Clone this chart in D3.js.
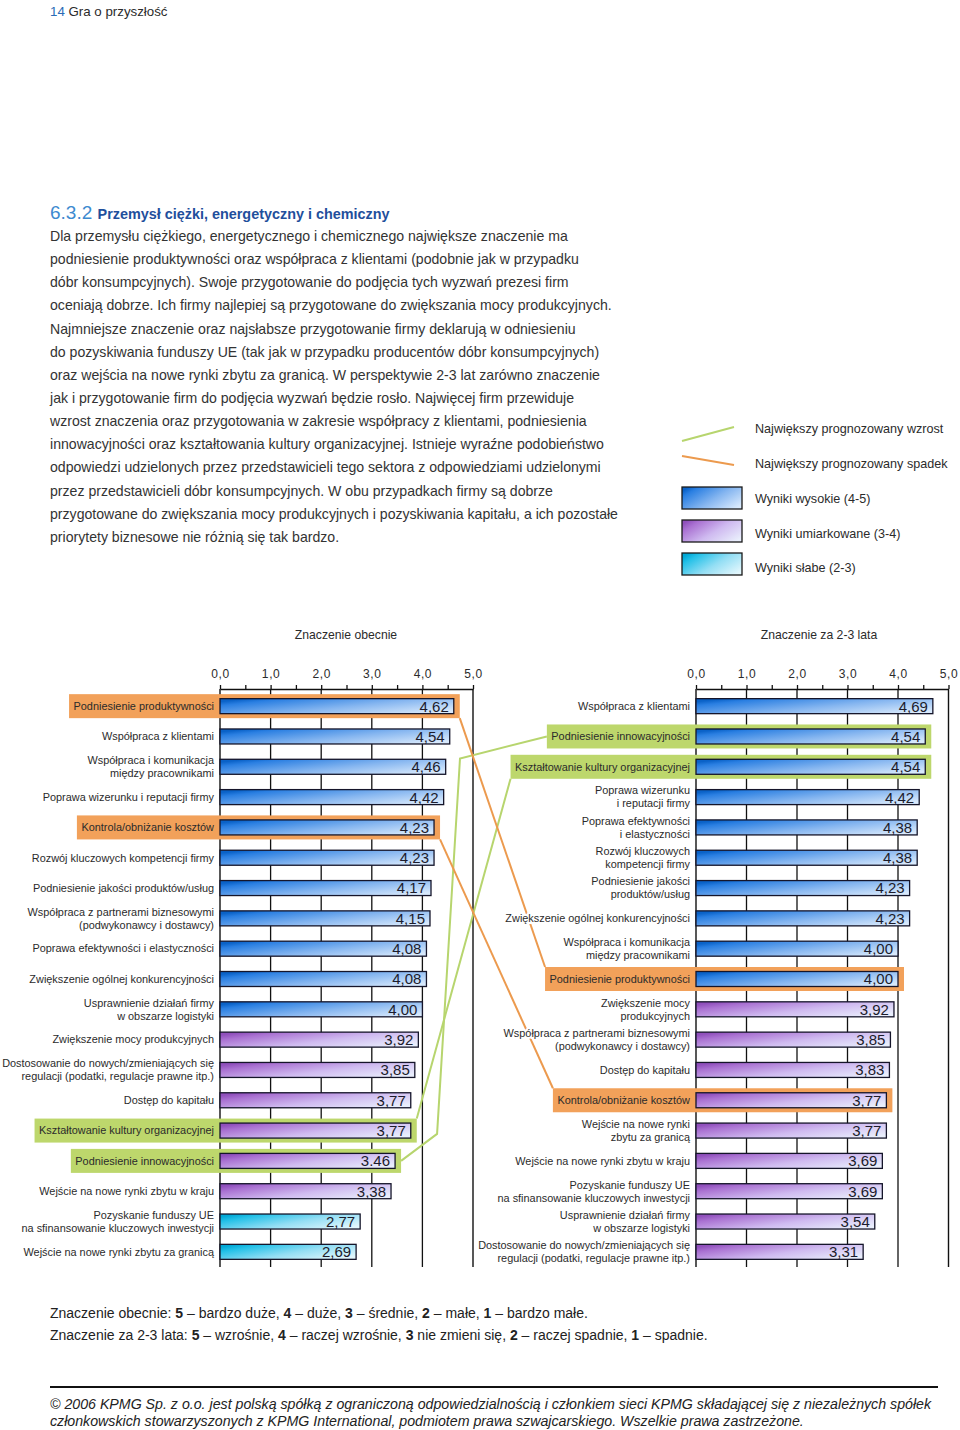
<!DOCTYPE html>
<html><head><meta charset="utf-8">
<script src="https://cdn.jsdelivr.net/npm/d3@7"></script>
<style>
body{margin:0;background:#fff;}
svg{display:block;font-family:"Liberation Sans",Arial,sans-serif;}
</style>
</head><body>
<svg id="c" width="960" height="1430"></svg>
<script>
// ---------- DATA ----------
const leftLabels = [
  "Podniesienie produktywności",
  "Współpraca z klientami",
  "Współpraca i komunikacja\nmiędzy pracownikami",
  "Poprawa wizerunku i reputacji firmy",
  "Kontrola/obniżanie kosztów",
  "Rozwój kluczowych kompetencji firmy",
  "Podniesienie jakości produktów/usług",
  "Współpraca z partnerami biznesowymi\n(podwykonawcy i dostawcy)",
  "Poprawa efektywności i elastyczności",
  "Zwiększenie ogólnej konkurencyjności",
  "Usprawnienie działań firmy\nw obszarze logistyki",
  "Zwiększenie mocy produkcyjnych",
  "Dostosowanie do nowych/zmieniających się\nregulacji (podatki, regulacje prawne itp.)",
  "Dostęp do kapitału",
  "Kształtowanie kultury organizacyjnej",
  "Podniesienie innowacyjności",
  "Wejście na nowe rynki zbytu w kraju",
  "Pozyskanie funduszy UE\nna sfinansowanie kluczowych inwestycji",
  "Wejście na nowe rynki zbytu za granicą"
];
const leftValues = [4.62,4.54,4.46,4.42,4.23,4.23,4.17,4.15,4.08,4.08,4.00,3.92,3.85,3.77,3.77,3.46,3.38,2.77,2.69];
const leftValueText = ["4,62","4,54","4,46","4,42","4,23","4,23","4,17","4,15","4,08","4,08","4,00","3,92","3,85","3,77","3,77","3.46","3,38","2,77","2,69"];

const rightLabels = [
  "Współpraca z klientami",
  "Podniesienie innowacyjności",
  "Kształtowanie kultury organizacyjnej",
  "Poprawa wizerunku\ni reputacji firmy",
  "Poprawa efektywności\ni elastyczności",
  "Rozwój kluczowych\nkompetencji firmy",
  "Podniesienie jakości\nproduktów/usług",
  "Zwiększenie ogólnej konkurencyjności",
  "Współpraca i komunikacja\nmiędzy pracownikami",
  "Podniesienie produktywności",
  "Zwiększenie mocy\nprodukcyjnych",
  "Współpraca z partnerami biznesowymi\n(podwykonawcy i dostawcy)",
  "Dostęp do kapitału",
  "Kontrola/obniżanie kosztów",
  "Wejście na nowe rynki\nzbytu za granicą",
  "Wejście na nowe rynki zbytu w kraju",
  "Pozyskanie funduszy UE\nna sfinansowanie kluczowych inwestycji",
  "Usprawnienie działań firmy\nw obszarze logistyki",
  "Dostosowanie do nowych/zmieniających się\nregulacji (podatki, regulacje prawne itp.)"
];
const rightValues = [4.69,4.54,4.54,4.42,4.38,4.38,4.23,4.23,4.00,4.00,3.92,3.85,3.83,3.77,3.77,3.69,3.69,3.54,3.31];

const increaseCategories = ["Kształtowanie kultury organizacyjnej","Podniesienie innowacyjności"];
const decreaseCategories = ["Podniesienie produktywności","Kontrola/obniżanie kosztów"];

const tickValues = [0,1,2,3,4,5];
const minorTickValues = [0.5,1.5,2.5,3.5,4.5];
const panelTitles = ["Znaczenie obecnie","Znaczenie za 2-3 lata"];

const legendLines = [
  {key:"up", label:"Największy prognozowany wzrost"},
  {key:"down", label:"Największy prognozowany spadek"}
];
const legendSwatches = [
  {key:"high", label:"Wyniki wysokie (4-5)"},
  {key:"mid", label:"Wyniki umiarkowane (3-4)"},
  {key:"low", label:"Wyniki słabe (2-3)"}
];

const bodyLines = [
  "Dla przemysłu ciężkiego, energetycznego i chemicznego największe znaczenie ma",
  "podniesienie produktywności oraz współpraca z klientami (podobnie jak w przypadku",
  "dóbr konsumpcyjnych). Swoje przygotowanie do podjęcia tych wyzwań prezesi firm",
  "oceniają dobrze. Ich firmy najlepiej są przygotowane do zwiększania mocy produkcyjnych.",
  "Najmniejsze znaczenie oraz najsłabsze przygotowanie firmy deklarują w odniesieniu",
  "do pozyskiwania funduszy UE (tak jak w przypadku producentów dóbr konsumpcyjnych)",
  "oraz wejścia na nowe rynki zbytu za granicą. W perspektywie 2-3 lat zarówno znaczenie",
  "jak i przygotowanie firm do podjęcia wyzwań będzie rosło. Najwięcej firm przewiduje",
  "wzrost znaczenia oraz przygotowania w zakresie współpracy z klientami, podniesienia",
  "innowacyjności oraz kształtowania kultury organizacyjnej. Istnieje wyraźne podobieństwo",
  "odpowiedzi udzielonych przez przedstawicieli tego sektora z odpowiedziami udzielonymi",
  "przez przedstawicieli dóbr konsumpcyjnych. W obu przypadkach firmy są dobrze",
  "przygotowane do zwiększania mocy produkcyjnych i pozyskiwania kapitału, a ich pozostałe",
  "priorytety biznesowe nie różnią się tak bardzo."
];
const footnoteLines = [
  "Znaczenie obecnie: **5** – bardzo duże, **4** – duże, **3** – średnie, **2** – małe, **1** – bardzo małe.",
  "Znaczenie za 2-3 lata: **5** – wzrośnie, **4** – raczej wzrośnie, **3** nie zmieni się, **2** – raczej spadnie, **1** – spadnie."
];
const copyrightLines = [
  "© 2006 KPMG Sp. z o.o. jest polską spółką z ograniczoną odpowiedzialnością i członkiem sieci KPMG składającej się z niezależnych spółek",
  "członkowskich stowarzyszonych z KPMG International, podmiotem prawa szwajcarskiego. Wszelkie prawa zastrzeżone."
];

// ---------- STYLE ----------
const C = {
  orange:"#f2a15a", orangeLine:"#ec9a4e",
  green:"#bdd76c", greenLine:"#b7d56e",
  text:"#2b2b2b", blue:"#2a6bb6", titleBlue:"#1f4f9c", lightBlue:"#3d8ad0"
};
const gradStops = {
  high:[["0%","#0a62c8"],["12%","#2a7fe2"],["55%","#86b6f0"],["100%","#d8e9fc"]],
  mid: [["0%","#9050bc"],["15%","#aa72d2"],["55%","#cfbaf0"],["100%","#e9eefc"]],
  low: [["0%","#00a8d6"],["15%","#25c1e8"],["55%","#93def4"],["100%","#e2f7fd"]]
};

const svg = d3.select("#c");
const defs = svg.append("defs");
Object.entries(gradStops).forEach(([k,stops])=>{
  const g = defs.append("linearGradient").attr("id","g-"+k)
    .attr("x1","0").attr("y1","0.2").attr("x2","1").attr("y2","0.8");
  stops.forEach(s=>g.append("stop").attr("offset",s[0]).attr("stop-color",s[1]));
});
const level = v => v >= 4 ? "high" : (v >= 3 ? "mid" : "low");
const norm = s => s.replace("\n"," ");

// ---------- HEADER & BODY ----------
const hdr = svg.append("text").attr("x",50).attr("y",16).attr("font-size",13.3).attr("fill",C.text);
hdr.append("tspan").attr("fill",C.blue).text("14");
hdr.append("tspan").text(" Gra o przyszłość");

const ttl = svg.append("text").attr("x",50).attr("y",219);
ttl.append("tspan").attr("font-size",19).attr("fill",C.lightBlue).text("6.3.2 ");
ttl.append("tspan").attr("font-size",14.4).attr("font-weight","bold").attr("fill",C.titleBlue)
   .text("Przemysł ciężki, energetyczny i chemiczny");

svg.append("g").selectAll("text").data(bodyLines).join("text")
  .attr("x",50).attr("y",(d,i)=>236 + i*23.15).attr("dy","0.35em")
  .attr("font-size",14.1).attr("fill","#333").text(d=>d);

// ---------- LEGEND ----------
const lg = svg.append("g");
lg.append("line").attr("x1",682).attr("y1",441).attr("x2",734).attr("y2",427)
  .attr("stroke",C.greenLine).attr("stroke-width",2);
lg.append("line").attr("x1",682).attr("y1",456).attr("x2",734).attr("y2",465)
  .attr("stroke",C.orangeLine).attr("stroke-width",2);
lg.selectAll("text.ll").data(legendLines).join("text").attr("class","ll")
  .attr("x",755).attr("y",(d,i)=>429 + i*34.5).attr("dy","0.35em")
  .attr("font-size",12.6).attr("fill",C.text).text(d=>d.label);
lg.selectAll("rect.sw").data(legendSwatches).join("rect").attr("class","sw")
  .attr("x",682).attr("y",(d,i)=>487 + i*33).attr("width",60).attr("height",22)
  .attr("fill",d=>`url(#g-${d.key})`).attr("stroke","#1a1a1a").attr("stroke-width",1.3);
lg.selectAll("text.sl").data(legendSwatches).join("text").attr("class","sl")
  .attr("x",755).attr("y",(d,i)=>499 + i*34.5).attr("dy","0.35em")
  .attr("font-size",12.6).attr("fill",C.text).text(d=>d.label);

// ---------- CHART ----------
const axisY = 689, bottomY = 1267;
const xL = d3.scaleLinear().domain([0,5]).range([220,473]);
const xR = d3.scaleLinear().domain([0,5]).range([696,948.5]);
const y = d3.scaleBand().domain(d3.range(19)).range([691,bottomY]);
const cy = i => y(i) + y.bandwidth()/2;
const barH = 15;

svg.append("text").attr("x",346).attr("y",635).attr("dy","0.35em").attr("text-anchor","middle")
  .attr("font-size",12.2).attr("fill",C.text).text(panelTitles[0]);
svg.append("text").attr("x",819).attr("y",635).attr("dy","0.35em").attr("text-anchor","middle")
  .attr("font-size",12.2).attr("fill",C.text).text(panelTitles[1]);

const layerGrid = svg.append("g");
const layerLines = svg.append("g");
const layerBoxes = svg.append("g");
const layerFront = svg.append("g");

function panel(x, labels, values, valueText){
  const info = [];
  const ax = layerGrid.append("g").attr("transform",`translate(0,${axisY})`)
    .call(d3.axisTop(x).tickValues(tickValues).tickSize(4).tickSizeOuter(0).tickPadding(7)
      .tickFormat(d=>d3.format(".1f")(d).replace(".",",")));
  ax.select(".domain").attr("stroke","#111").attr("stroke-width",1.3);
  ax.selectAll(".tick line").attr("stroke","#111").attr("stroke-width",1.3);
  ax.selectAll(".tick text").attr("font-size",12).attr("fill",C.text)
    .attr("font-family",'"Liberation Sans",Arial,sans-serif').attr("letter-spacing",0.6);
  const mx = layerGrid.append("g").attr("transform",`translate(0,${axisY})`)
    .call(d3.axisTop(x).tickValues(minorTickValues).tickSize(4).tickSizeOuter(0).tickFormat(""));
  mx.select(".domain").remove();
  mx.selectAll(".tick line").attr("stroke","#111").attr("stroke-width",1.3);
  layerGrid.append("g").selectAll("line").data(tickValues).join("line")
    .attr("x1",d=>x(d)).attr("x2",d=>x(d)).attr("y1",axisY).attr("y2",bottomY)
    .attr("stroke","#111").attr("stroke-width",d=>(d===0||d===5)?1.4:1.3);

  values.forEach((v,i)=>{
    const g = layerFront.append("g");
    g.append("rect").attr("x",x(0)).attr("y",cy(i)-barH/2).attr("width",x(v)-x(0)).attr("height",barH)
      .attr("fill",`url(#g-${level(v)})`).attr("stroke","#15152a").attr("stroke-width",1.3);
    g.append("text").attr("x",x(v)-5).attr("y",cy(i)).attr("dy","0.36em").attr("text-anchor","end")
      .attr("font-size",15).attr("fill","#1c1c2c")
      .text(valueText ? valueText[i] : d3.format(".2f")(v).replace(".",","));
    const name = norm(labels[i]);
    const hi = increaseCategories.includes(name) ? "up" : (decreaseCategories.includes(name) ? "down" : null);
    const parts = labels[i].split("\n");
    const t = g.append("text").attr("text-anchor","end").attr("font-size",10.9).attr("fill",C.text);
    if(!hi){
      t.attr("stroke","#fff").attr("stroke-width",4).attr("paint-order","stroke").attr("stroke-linejoin","round");
    }
    parts.forEach((p,k)=>{
      t.append("tspan").attr("x",x(0)-6)
        .attr("y",cy(i) + (parts.length===1 ? 0 : (k===0 ? -6.5 : 6.5)))
        .attr("dy","0.35em").text(p);
    });
    const bb = t.node().getBBox();
    let box = null;
    if(hi){
      const bx = bb.x - 4.5, bw = x(v) + 6 - bx;
      box = {x:bx, y:cy(i)-12, w:bw, h:24};
      layerBoxes.append("rect").attr("x",box.x).attr("y",box.y).attr("width",box.w).attr("height",box.h)
        .attr("fill", hi==="up" ? C.green : C.orange);
    }
    info.push({name, hi, i, box});
  });
  return info;
}
const L = panel(xL, leftLabels, leftValues, leftValueText);
const R = panel(xR, rightLabels, rightValues, null);

// connector lines
const lineGen = d3.line();
[...increaseCategories, ...decreaseCategories].forEach((name, n)=>{
  const a = L.find(d=>d.name===name), b = R.find(d=>d.name===name);
  const A = a.box, B = b.box;
  let pts;
  if(a.hi==="down"){
    pts = [[A.x+A.w, A.y+A.h],[B.x, B.y]];
  } else if(n===0){
    pts = [[A.x+A.w, A.y],[B.x, B.y+B.h]];
  } else {
    pts = [[A.x+A.w, A.y+A.h/2],[A.x+A.w+36, A.y+A.h/2-27],[xL(5)-13, B.y+B.h/2+22],[B.x, B.y+B.h/2]];
  }
  layerLines.append("path").attr("d",lineGen(pts)).attr("fill","none")
    .attr("stroke", a.hi==="up" ? C.greenLine : C.orangeLine).attr("stroke-width",2);
});

// ---------- FOOTNOTES ----------
footnoteLines.forEach((line,i)=>{
  const t = svg.append("text").attr("x",50).attr("y",1313 + i*22).attr("dy","0.35em")
    .attr("font-size",14).attr("fill","#222");
  line.split("**").forEach((seg,k)=>{
    t.append("tspan").attr("font-weight", k%2 ? "bold" : "normal").text(seg);
  });
});
svg.append("line").attr("x1",50).attr("x2",938).attr("y1",1387).attr("y2",1387)
  .attr("stroke","#111").attr("stroke-width",2);
svg.append("g").selectAll("text").data(copyrightLines).join("text")
  .attr("x",50).attr("y",(d,i)=>1404 + i*17.5).attr("dy","0.35em")
  .attr("font-size",14.2).attr("font-style","italic").attr("fill","#222").text(d=>d);
</script>
</body></html>
